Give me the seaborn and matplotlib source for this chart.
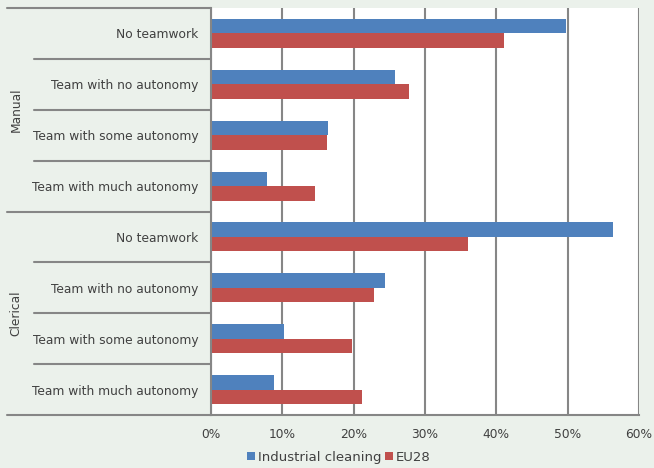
import numpy as np
import pandas as pd
import matplotlib
matplotlib.use('Agg')
import matplotlib.pyplot as plt
import seaborn as sns

# ── Data ──────────────────────────────────────────────────────────────────────
groups     = ['Manual', 'Clerical']
categories = ['No teamwork', 'Team with no autonomy',
              'Team with some autonomy', 'Team with much autonomy']
series     = ['Industrial cleaning', 'EU28']

industrial_cleaning = [49.8, 25.8, 16.4, 7.8,     # Manual
                       56.3, 24.4, 10.2, 8.9]     # Clerical
eu28                = [41.1, 27.8, 16.2, 14.6,
                       36.0, 22.9, 19.7, 21.2]

x_ticks  = [0, 10, 20, 30, 40, 50, 60]
x_labels = ['0%', '10%', '20%', '30%', '40%', '50%', '60%']

BG      = '#EBF1EB'
GRID    = '#868686'
COLORS  = ['#4F81BD', '#C0504D']
TXT     = '#404040'

# ── Long table ────────────────────────────────────────────────────────────────
keys = [f'{g}|{c}' for g in groups for c in categories]
df = pd.DataFrame({
    'key':    keys * 2,
    'series': [series[0]] * len(keys) + [series[1]] * len(keys),
    'value':  industrial_cleaning + eu28,
})

sns.set_style('white')
plt.rcParams['font.family'] = ['DejaVu Sans']

fig = plt.figure(figsize=(6.54, 4.68), dpi=100, facecolor=BG)
ax = fig.add_axes([211 / 654, 1 - 415 / 468, 428 / 654, 407 / 468])
ax.set_facecolor('white')

sns.barplot(data=df, x='value', y='key', hue='series', order=keys,
            hue_order=series, palette=COLORS, width=0.57, orient='h',
            saturation=1, edgecolor='none', ax=ax)

ax.set_xlim(0, 60)
ax.set_ylim(len(keys) - 0.5, -0.5)
ax.set_xticks(x_ticks)
ax.set_xticklabels(x_labels, color=TXT, fontsize=8.8)
ax.set_yticks(range(len(keys)))
ax.set_yticklabels([k.split('|')[1] for k in keys], color=TXT, fontsize=8.8)
ax.set_xlabel(''); ax.set_ylabel('')
ax.tick_params(axis='y', length=0, pad=9)
ax.tick_params(axis='x', length=5, width=1.5, color=GRID, direction='out', pad=4)

ax.grid(axis='x', color=GRID, linewidth=1.5)
ax.set_axisbelow(True)
for s in ['top', 'right']:
    ax.spines[s].set_visible(False)
for s in ['left', 'bottom']:
    ax.spines[s].set_color(GRID)
    ax.spines[s].set_linewidth(1.5)

# ── Category / group separators in the label area ─────────────────────────────
trans = ax.get_yaxis_transform()
n_cat = len(categories)
for i in range(len(keys) + 1):
    y = i - 0.5
    x0 = -0.4766 if i % n_cat == 0 else -0.4136
    ax.plot([x0, 0], [y, y], transform=trans, color=GRID,
            linewidth=1.5, clip_on=False)

for gi, g in enumerate(groups):
    ax.text(-0.455, gi * n_cat + (n_cat - 1) / 2, g, transform=trans,
            rotation=90, ha='center', va='center', color=TXT, fontsize=8.8)

# ── Legend ────────────────────────────────────────────────────────────────────
handles, labels = ax.get_legend_handles_labels()
ax.legend(handles, labels, loc='center', bbox_to_anchor=(0.518, 0.023),
          bbox_transform=fig.transFigure, ncol=2, frameon=False,
          handlelength=0.6, handleheight=0.6, handletextpad=0.2,
          columnspacing=0.3, fontsize=9.5, labelcolor=TXT)

fig.savefig('out.png', dpi=100, facecolor=BG)
